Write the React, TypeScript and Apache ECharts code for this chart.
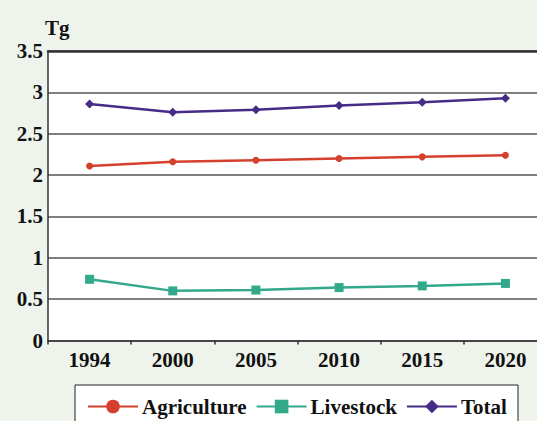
import React, { useEffect, useRef } from "react";
import * as echarts from "echarts";

const years = ["1994", "2000", "2005", "2010", "2015", "2020"];
const agriculture = [2.11, 2.16, 2.18, 2.2, 2.22, 2.24];
const livestock = [0.74, 0.6, 0.61, 0.64, 0.66, 0.69];
const total = [2.86, 2.76, 2.79, 2.84, 2.88, 2.93];

const FONT = "Liberation Serif";
const FS = 21;

export default function App() {
  const ref = useRef<HTMLDivElement>(null);
  useEffect(() => {
    if (!ref.current) return;
    const chart = echarts.init(ref.current, null, { renderer: "svg" });
    chart.setOption({
      animation: false,
      backgroundColor: "#EEF4EC",
      textStyle: { fontFamily: FONT },
      grid: {
        left: 48,
        top: 51,
        width: 499,
        height: 289.5,
        show: true,
        backgroundColor: "#ffffff",
        borderWidth: 0,
        outerBoundsMode: "none",
        containLabel: false,
      },
      graphic: [
        {
          type: "rect",
          shape: { x: 75, y: 385, width: 443, height: 60 },
          style: { fill: "#ffffff", stroke: "#222222", lineWidth: 1 },
          z: 0,
        },
      ],
      legend: {
        left: 87,
        top: 396,
        itemWidth: 50,
        itemHeight: 17,
        itemGap: 9,
        padding: 0,
        textStyle: {
          fontFamily: FONT,
          fontSize: FS,
          fontWeight: "bold",
          color: "#111111",
          padding: [0, 0, 0, -1],
        },
        z: 5,
        data: ["Agriculture", "Livestock", "Total"],
      },
      xAxis: [
        {
          type: "category",
          data: years,
          boundaryGap: true,
          axisLine: { show: true, lineStyle: { color: "#333333", width: 1.5 } },
          axisTick: { show: true, length: 4, lineStyle: { color: "#333333", width: 1.5 } },
          axisLabel: {
            margin: 9,
            fontFamily: FONT,
            fontSize: FS,
            fontWeight: "bold",
            color: "#111111",
          },
          splitLine: { show: false },
        },
        {
          type: "category",
          data: years,
          position: "top",
          axisLine: { show: true, lineStyle: { color: "#333333", width: 2.5 } },
          axisTick: { show: false },
          axisLabel: { show: false },
          splitLine: { show: false },
        },
      ],
      yAxis: {
        type: "value",
        min: 0,
        max: 3.5,
        interval: 0.5,
        name: "Tg",
        nameLocation: "end",
        nameGap: 13,
        nameTextStyle: {
          fontFamily: FONT,
          fontSize: FS,
          fontWeight: "bold",
          color: "#111111",
          align: "left",
          padding: [0, 0, 0, -3],
        },
        axisLine: { show: true, lineStyle: { color: "#333333", width: 1.5 } },
        axisTick: { show: false },
        axisLabel: {
          margin: 5,
          fontFamily: FONT,
          fontSize: FS,
          fontWeight: "bold",
          color: "#111111",
        },
        splitLine: { show: true, lineStyle: { color: "#555555", width: 1.5 } },
      },
      series: [
        {
          name: "Agriculture",
          type: "line",
          data: agriculture,
          symbol: "circle",
          symbolSize: 7,
          color: "#D5402E",
          lineStyle: { width: 2.5, color: "#D5402E" },
          itemStyle: { color: "#D5402E" },
        },
        {
          name: "Livestock",
          type: "line",
          data: livestock,
          symbol: "rect",
          symbolSize: 9,
          color: "#33A98B",
          lineStyle: { width: 2.5, color: "#33A98B" },
          itemStyle: { color: "#33A98B" },
        },
        {
          name: "Total",
          type: "line",
          data: total,
          symbol: "diamond",
          symbolSize: 9,
          color: "#472C87",
          lineStyle: { width: 2.5, color: "#472C87" },
          itemStyle: { color: "#472C87" },
        },
      ],
    });
    return () => chart.dispose();
  }, []);
  return (
    <div
      ref={ref}
      style={{ position: "fixed", left: 0, top: 0, width: 537, height: 421 }}
    />
  );
}
